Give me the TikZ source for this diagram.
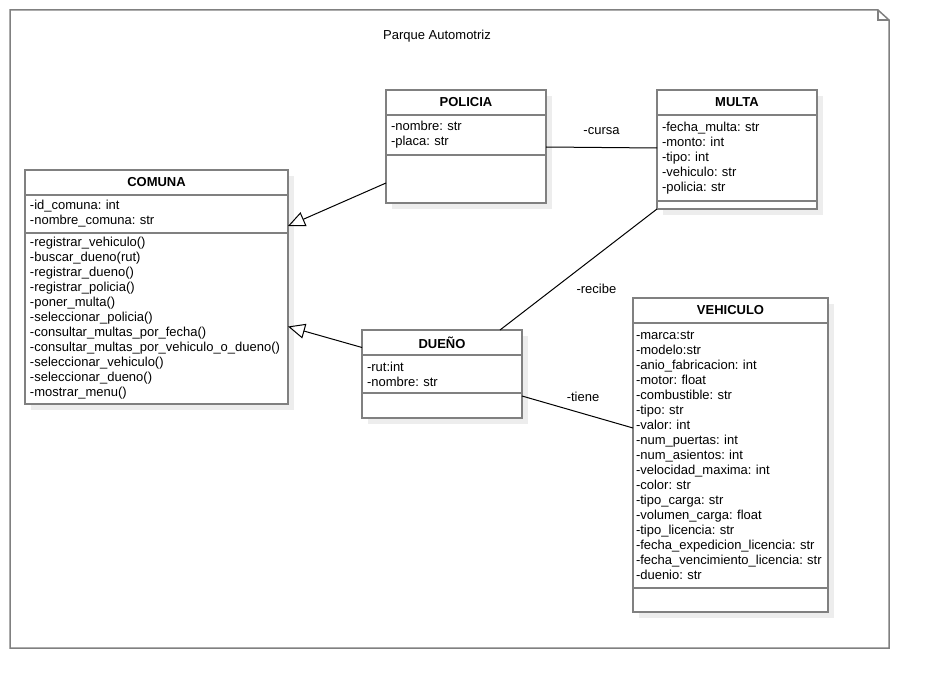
\documentclass[tikz,border=0pt]{standalone}
\usepackage{fontspec}
\setmainfont{Liberation Sans}
\usepackage{tikz}
\usetikzlibrary{positioning,shadows,arrows.meta}
\frenchspacing

\begin{document}
\begin{tikzpicture}[
  x=1pt, y=-1pt,
  font=\fontsize{13}{15}\selectfont,
  cls/.style={draw=black!50, line width=1.5pt, fill=white,
    inner xsep=5pt, inner ysep=0pt, outer sep=0pt,
    drop shadow={shadow xshift=6pt, shadow yshift=-6pt, fill=black!7, opacity=1}},
  clshead/.style={cls, font=\fontsize{13}{15}\selectfont\bfseries,
    align=center, minimum height=25pt},
  clsbody/.style={cls, align=left},
  assoc/.style={draw=black, line width=1pt},
  herencia/.style={draw=black, line width=1pt,
    -{Triangle[open, length=17pt, width=15pt]}},
  marco/.style={draw=black!50, line width=1.5pt},
  lbl/.style={font=\fontsize{13}{15}\selectfont},
]
\useasboundingbox (0,0) rectangle (930,690);

% marco del paquete
\draw[marco] (10,10) -- (878,10) -- (889,20) -- (889,648) -- (10,648) -- cycle;
\draw[marco] (878,10) -- (878,20) -- (889,20);
\node (titulo) at (437,36) {Parque Automotriz};

% POLICIA
\node[clshead, text width=150pt, anchor=north west] (pol) at (386,90) {POLICIA};
\node[clsbody, text width=150pt, minimum height=40pt, below=0pt of pol] (pol-a)
  {-nombre: str\\-placa: str};
\node[clsbody, text width=150pt, minimum height=48pt, below=0pt of pol-a] (pol-m) {};

% MULTA
\node[clshead, text width=150pt, anchor=north west] (mul) at (657,90) {MULTA};
\node[clsbody, text width=150pt, minimum height=86pt, below=0pt of mul] (mul-a)
  {-fecha\_multa: str\\-monto: int\\-tipo: int\\-vehiculo: str\\-policia: str};
\node[clsbody, text width=150pt, minimum height=8pt, below=0pt of mul-a] (mul-m) {};

% COMUNA
\node[clshead, text width=253pt, anchor=north west] (com) at (25,170) {COMUNA};
\node[clsbody, text width=253pt, minimum height=38pt, below=0pt of com] (com-a)
  {-id\_comuna: int\\-nombre\_comuna: str};
\node[clsbody, text width=253pt, minimum height=171pt, below=0pt of com-a] (com-m)
  {-registrar\_vehiculo()\\-buscar\_dueno(rut)\\-registrar\_dueno()\\
   -registrar\_policia()\\-poner\_multa()\\-seleccionar\_policia()\\
   -consultar\_multas\_por\_fecha()\\-consultar\_multas\_por\_vehiculo\_o\_dueno()\\
   -seleccionar\_vehiculo()\\-seleccionar\_dueno()\\-mostrar\_menu()};

% DUEÑO
\node[clshead, text width=150pt, anchor=north west] (due) at (362,330) {DUEÑO};
\node[clsbody, text width=150pt, minimum height=38pt, below=0pt of due] (due-a)
  {-rut:int\\-nombre: str};
\node[clsbody, text width=150pt, minimum height=25pt, below=0pt of due-a] (due-m) {};

% VEHICULO
\node[clshead, text width=185pt, anchor=north west] (veh) at (633,298) {VEHICULO};
\node[clsbody, inner xsep=3pt, text width=189pt, minimum height=265pt, below=0pt of veh] (veh-a)
  {-marca:str\\-modelo:str\\-anio\_fabricacion: int\\-motor: float\\
   -combustible: str\\-tipo: str\\-valor: int\\-num\_puertas: int\\
   -num\_asientos: int\\-velocidad\_maxima: int\\-color: str\\
   -tipo\_carga: str\\-volumen\_carga: float\\-tipo\_licencia: str\\
   -fecha\_expedicion\_licencia: str\\-fecha\_vencimiento\_licencia: str\\
   -duenio: str};
\node[clsbody, text width=185pt, minimum height=24pt, below=0pt of veh-a] (veh-m) {};

% relaciones
\draw[herencia] ([yshift=-4pt]pol-m.west) -- ([yshift=7pt]com-a.south east);
\draw[herencia] ([yshift=-5pt]due.west) -- ([yshift=-8pt]com-m.east);
\draw[assoc] ([yshift=8pt]pol-a.south east) -- ([yshift=10pt]mul-a.west)
  node[lbl, pos=0.5, yshift=16pt] (cursa) {-cursa};
\draw[assoc] ([xshift=-22pt]due.north east) -- (mul-m.south west)
  node[lbl, pos=0.614, yshift=-33pt] (recibe) {-recibe};
\draw[assoc] ([yshift=-3pt]due-m.north east) -- ([yshift=-105pt]veh.south west)
  node[lbl, pos=0.55, yshift=17pt] (tiene) {-tiene};
\end{tikzpicture}
\end{document}
